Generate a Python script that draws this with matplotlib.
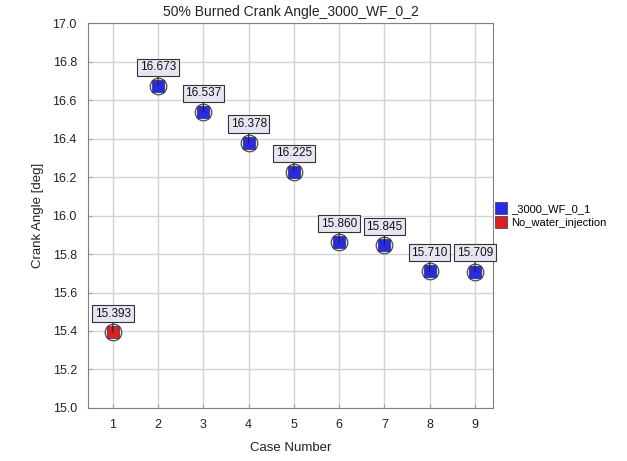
import matplotlib.pyplot as plt

plt.rcParams['font.family'] = ['Liberation Sans', 'DejaVu Sans']

cases = [1, 2, 3, 4, 5, 6, 7, 8, 9]
angles = [15.393, 16.673, 16.537, 16.378, 16.225, 15.860, 15.845, 15.710, 15.709]
series = ['No_water_injection'] + ['_3000_WF_0_1'] * 8
colors = {'_3000_WF_0_1': '#2a2ae0', 'No_water_injection': '#dc2020'}
legend_order = ['_3000_WF_0_1', 'No_water_injection']

fig = plt.figure(figsize=(6.27, 4.61), dpi=100)
ax = fig.add_axes([0.1404, 0.115, 0.6459, 0.835])

ax.grid(True, color='#d4d4d4', lw=1)
ax.set_axisbelow(True)

for x, y, s in zip(cases, angles, series):
    ax.plot(x, y, 'o', ms=12, mfc='#dcdce4', mec='#404040', mew=0.8, zorder=3)
    ax.plot(x, y, 's', ms=8.5, mfc=colors[s], mec='#303060', mew=0.5, zorder=4)
    ax.annotate(f'{y:.3f}', (x, y), xytext=(0, 13.5), textcoords='offset points',
                ha='center', va='center', fontsize=8.5, color='#111111', zorder=5,
                bbox=dict(boxstyle='square,pad=0.22', fc='#e6e6f2', ec='#333333', lw=0.8),
                arrowprops=dict(arrowstyle='-', color='#222222', lw=0.8, shrinkA=0, shrinkB=0))

ax.set_xlim(0.45, 9.4)
ax.set_ylim(15.0, 17.0)
ax.set_xticks(cases)
ax.set_yticks([15.0 + 0.2 * i for i in range(11)])
ax.set_yticklabels([f'{15.0 + 0.2 * i:.1f}' for i in range(11)])
ax.tick_params(direction='in', length=3, color='#a0a0a0', labelsize=9,
               labelcolor='#222222', pad=8)
for sp in ax.spines.values():
    sp.set_color('#808080')

ax.set_title('50% Burned Crank Angle_3000_WF_0_2', fontsize=10, color='#222222', pad=5)
ax.set_xlabel('Case Number', fontsize=9.5, color='#222222', labelpad=8)
ax.set_ylabel('Crank Angle [deg]', fontsize=9.5, color='#222222', labelpad=6)

handles = [plt.Line2D([], [], ls='', marker='s', ms=8, mfc=colors[k], mec='#303060', mew=0.5)
           for k in legend_order]
fig.legend(handles, legend_order, loc='upper left', bbox_to_anchor=(0.785, 0.567),
           frameon=False, fontsize=8, handlelength=0.8, handletextpad=0.5,
           labelspacing=0.35, borderaxespad=0)

fig.savefig('out.png', dpi=100)
